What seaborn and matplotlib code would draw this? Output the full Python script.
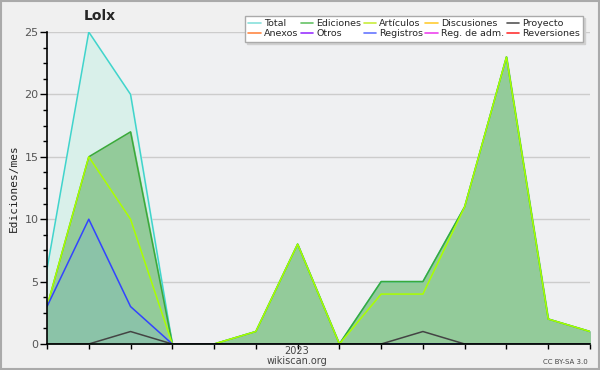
import matplotlib
matplotlib.use("Agg")
import matplotlib.pyplot as plt
import seaborn as sns
import pandas as pd
import numpy as np
from matplotlib.lines import Line2D
from matplotlib.patches import Rectangle

months = ["2022-07", "2022-08", "2022-09", "2022-10", "2022-11", "2022-12", "2023-01",
          "2023-02", "2023-03", "2023-04", "2023-05", "2023-06", "2023-07", "2023-08"]
total = [6, 25, 20, 0, 0, 1, 8, 0, 5, 5, 11, 23, 2, 1]
ediciones = [3, 15, 17, 0, 0, 1, 8, 0, 5, 5, 11, 23, 2, 1]
articulos = [3, 15, 10, 0, 0, 1, 8, 0, 4, 4, 11, 23, 2, 1]
registros = [3, 10, 3, 0, 0, 0, 0, 0, 0, 0, 0, 0, 0, 0]
proyecto = [0, 0, 1, 0, 0, 0, 0, 0, 0, 1, 0, 0, 0, 0]

legend_labels = ["Total", "Ediciones", "Artículos", "Discusiones", "Proyecto",
                 "Anexos", "Otros", "Registros", "Reg. de adm.", "Reversiones"]
legend_colors = ["#88e0dc", "#66c266", "#c8ec3c", "#ffcc33", "#555555",
                 "#ff8844", "#9933ff", "#6677ff", "#ee44ee", "#ff3333"]

sns.set_style("white")
plt.rcParams['font.family'] = ['DejaVu Sans']

x = np.arange(len(months))
df = pd.DataFrame({"x": x, "Total": total, "Ediciones": ediciones, "Artículos": articulos,
                   "Registros": registros, "Proyecto": proyecto})

fig = plt.figure(figsize=(6, 3.7), dpi=100)
fig.patch.set_facecolor("#f0f0f0")
fig.add_artist(Rectangle((0.001, 0.002), 0.997, 0.996, transform=fig.transFigure,
                         fill=False, edgecolor="#aaaaaa", linewidth=1.5))
ax = fig.add_axes([47/600, 26/370, 543/600, 312/370])
ax.set_facecolor("#eff0f2")

# fills
ax.fill_between(df["x"], df["Total"], color="#d9f0ea", zorder=1)
ax.fill_between(df["x"], df["Ediciones"], color="#93cb9a", zorder=2)
ax.fill_between(df["x"], df["Registros"], color="#8bc3a8", zorder=3)

line_specs = [("Total", "#40d4cc"), ("Ediciones", "#3aaa3a"), ("Artículos", "#aaff00"),
              ("Registros", "#3344ff"), ("Proyecto", "#444444")]
for i, (col, c) in enumerate(line_specs):
    sns.lineplot(data=df, x="x", y=col, ax=ax, color=c, linewidth=1.1, zorder=5 + i)

ax.set_xlim(0, len(months) - 1)
ax.set_ylim(0, 25)
ax.set_yticks([0, 5, 10, 15, 20, 25])
ax.set_yticks(np.arange(0, 25.01, 1.25), minor=True)
ax.set_xticks(x)
ax.set_xticklabels([""] * len(months))
ax.tick_params(which="both", left=True, bottom=True)
ax.tick_params(axis="y", which="major", length=5, width=1, color="black",
               labelsize=8, labelcolor="#555555", direction="out", pad=1)
ax.tick_params(axis="y", which="minor", length=3, width=1, color="black", direction="out")
ax.tick_params(axis="x", which="major", length=3.5, width=1, color="black", direction="out")
ax.grid(axis="y", color="#cccccc", linewidth=1, zorder=0)
ax.set_axisbelow(True)
for s in ["top", "right"]:
    ax.spines[s].set_visible(False)
for s in ["left", "bottom"]:
    ax.spines[s].set_color("black")
    ax.spines[s].set_linewidth(1.2)
    ax.spines[s].set_zorder(20)
ax.set_xlabel("")
ax.set_ylabel("Ediciones/mes", fontsize=8, color="#222222", family="DejaVu Sans Mono", labelpad=4)

fig.text(100/600, 1 - 16/370, "Lolx", fontsize=10, fontweight="bold", ha="center", va="center")
fig.text(297/600, 1 - 351/370, "2023", fontsize=7, color="#444444", ha="center", va="center")
fig.text(297/600, 1 - 361/370, "wikiscan.org", fontsize=7, color="#444444", ha="center", va="center")
fig.text(588/600, 1 - 362/370, "CC BY-SA 3.0", fontsize=5, color="#444444", ha="right", va="center")

# reorder for row-wise filling with ncol=5
order = []
for c in range(5):
    order += [c, c + 5]
handles = [Line2D([0], [0], color=legend_colors[i], linewidth=1.2) for i in order]
labels = [legend_labels[i] for i in order]
leg = fig.legend(handles, labels, ncol=5, loc="upper right",
                 bbox_to_anchor=(588/600, 1 - 11/370), fontsize=6.8, frameon=True,
                 handlelength=1.3, handletextpad=0.35, columnspacing=0.25,
                 labelspacing=0.15, borderpad=0.35, fancybox=False,
                 shadow={"ox": 1.5, "oy": -1.5, "color": "#d0d0d0", "alpha": 1})
leg.get_frame().set_edgecolor("#aaaaaa")
leg.get_frame().set_facecolor("white")
leg.get_frame().set_linewidth(1)

fig.savefig("out.png", dpi=100, facecolor=fig.get_facecolor())
